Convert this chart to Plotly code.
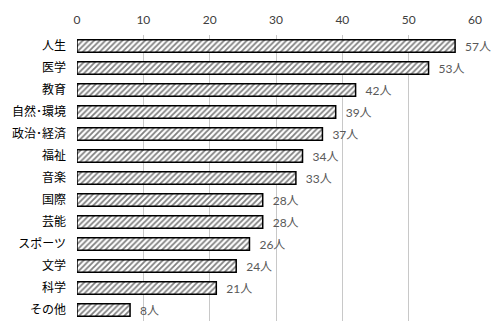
import plotly.graph_objects as go

categories = ["人生", "医学", "教育", "自然･環境", "政治･経済", "福祉", "音楽", "国際", "芸能", "スポーツ", "文学", "科学", "その他"]
counts = [57, 53, 42, 39, 37, 34, 33, 28, 28, 26, 24, 21, 8]
x_ticks = [0, 10, 20, 30, 40, 50, 60]

fig = go.Figure(
    go.Bar(
        y=categories,
        x=counts,
        orientation="h",
        marker=dict(
            color="white",
            line=dict(color="black", width=1.5),
            pattern=dict(shape="/", fgcolor="black", bgcolor="white", size=4, solidity=0.45),
        ),
        text=[f"\u2007{v}人" for v in counts],
        textposition="outside",
        constraintext="none",
        textfont=dict(family="Lato, Noto Sans CJK JP", size=12, color="#595959"),
        cliponaxis=False,
    )
)

fig.update_layout(
    width=496,
    height=336,
    margin=dict(l=76, r=21, t=30, b=15),
    paper_bgcolor="white",
    plot_bgcolor="white",
    bargap=0.44,
    showlegend=False,
    font=dict(family="Noto Sans CJK JP", size=12, color="black"),
    uniformtext=dict(minsize=12, mode="show"),
)

fig.update_xaxes(
    side="top",
    range=[0, 60],
    tickvals=x_ticks,
    showgrid=True,
    gridcolor="#c8c8c8",
    gridwidth=1,
    zeroline=False,
    showline=False,
    ticks="",
    ticklabelstandoff=8,
    tickfont=dict(family="Lato, Noto Sans CJK JP", size=12, color="#404040"),
)

fig.update_yaxes(
    categoryorder="array",
    categoryarray=categories[::-1],
    autorange=True,
    showgrid=False,
    showline=False,
    zeroline=False,
    ticks="",
    ticklabelstandoff=10,
    tickfont=dict(family="Noto Sans CJK JP", size=12, color="black"),
)

fig.write_html("out.html")
